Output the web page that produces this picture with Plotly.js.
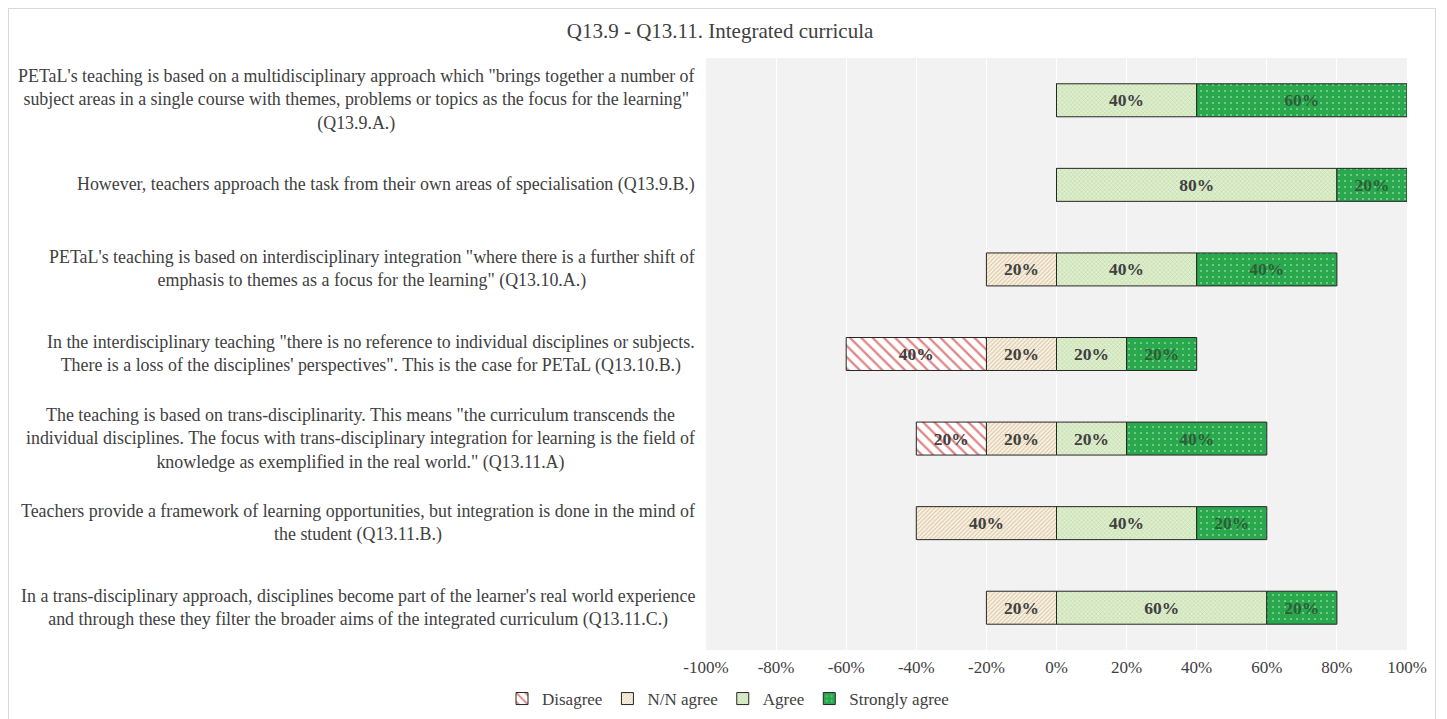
<!DOCTYPE html>
<html>
<head>
<meta charset="utf-8">
<script src="https://cdn.plot.ly/plotly-3.0.1.min.js"></script>
<style>
html,body{margin:0;padding:0;background:#fff;}
#wrap{position:relative;width:1447px;height:719px;}
#chart{width:1447px;height:719px;}
#frame{position:absolute;left:8px;top:8px;width:1428px;height:716px;border:1px solid #d9d9d9;pointer-events:none;box-sizing:border-box;}
</style>
</head>
<body>
<div id="wrap"><div id="chart"></div><div id="frame"></div></div>
<script>
var categories = ["Q13.9.A.", "Q13.9.B.", "Q13.10.A.", "Q13.10.B.", "Q13.11.A", "Q13.11.B.", "Q13.11.C."];
var labels = [
  "PETaL's teaching is based on a multidisciplinary approach which \"brings together a number of<br>subject areas in a single course with themes, problems or topics as the focus for the learning\"<br>(Q13.9.A.)",
  "However, teachers approach the task from their own areas of specialisation (Q13.9.B.)",
  "PETaL's teaching is based on interdisciplinary integration \"where there is a further shift of<br>emphasis to themes as a focus for the learning\" (Q13.10.A.)",
  "In the interdisciplinary teaching \"there is no reference to individual disciplines or subjects.<br>There is a loss of the disciplines' perspectives\". This is the case for PETaL (Q13.10.B.)",
  "The teaching is based on trans-disciplinarity. This means \"the curriculum transcends the<br>individual disciplines. The focus with trans-disciplinary integration for learning is the field of<br>knowledge as exemplified in the real world.\" (Q13.11.A)",
  "Teachers provide a framework of learning opportunities, but integration is done in the mind of<br>the student (Q13.11.B.)",
  "In a trans-disciplinary approach, disciplines become part of the learner's real world experience<br>and through these they filter the broader aims of the integrated curriculum (Q13.11.C.)"
];
var disagree = [0, 0, 0, 40, 20, 0, 0];
var nnAgree  = [0, 0, 20, 20, 20, 40, 20];
var agree    = [40, 80, 40, 20, 20, 40, 60];
var strongly = [60, 20, 40, 20, 40, 20, 20];
var tickValues = [-100, -80, -60, -40, -20, 0, 20, 40, 60, 80, 100];
var tickLabels = ["-100%", "-80%", "-60%", "-40%", "-20%", "0%", "20%", "40%", "60%", "80%", "100%"];

var FONT = "Liberation Serif, Times New Roman, serif";
function txt(arr){ return arr.map(function(v){ return v ? (v + "%") : ""; }); }
function neg(arr){ return arr.map(function(v){ return -v; }); }

function bar(name, xs, texts, pattern, rank, tcolor){
  return {
    type: "bar", orientation: "h", name: name,
    y: categories, x: xs, text: texts,
    texttemplate: "%{text}", textposition: "inside", insidetextanchor: "middle",
    textangle: 0, constraintext: "none",
    insidetextfont: {family: FONT, size: 17.5, color: tcolor, weight: "bold"},
    marker: {color: pattern.bgcolor, line: {color: "#262626", width: 1}, pattern: pattern},
    legendrank: rank, hoverinfo: "x+name"
  };
}

var traces = [
  bar("N/N agree", neg(nnAgree), txt(nnAgree),
      {shape: "/", fgcolor: "#d6c29f", bgcolor: "#f9f1e2", size: 3, solidity: 0.3}, 2, "#404040"),
  bar("Disagree", neg(disagree), txt(disagree),
      {shape: "\\", fgcolor: "#e08585", bgcolor: "#ffffff", size: 8, solidity: 0.28}, 1, "#404040"),
  bar("Agree", agree, txt(agree),
      {shape: "x", fgcolor: "#b5d69c", bgcolor: "#e0eed0", size: 3, solidity: 0.3}, 3, "#404040"),
  bar("Strongly agree", strongly, txt(strongly),
      {shape: ".", fgcolor: "#7fd393", bgcolor: "#2aa84e", size: 6, solidity: 0.1}, 4, "#2d5e38")
];

var annotations = categories.map(function(c, i){
  return {xref: "paper", yref: "y", x: -0.0128, y: c, xanchor: "right", yanchor: "middle",
          align: "center", showarrow: false, text: labels[i],
          font: {family: FONT, size: 17.9, color: "#404040"}};
});

var layout = {
  width: 1447, height: 719,
  margin: {l: 706, r: 40, t: 58, b: 69, pad: 0},
  paper_bgcolor: "#ffffff", plot_bgcolor: "#f2f2f2",
  barmode: "relative", bargap: 0.61,
  font: {family: FONT, color: "#404040", size: 17},
  title: {text: "Q13.9 - Q13.11. Integrated curricula", xref: "container", x: 0.4976,
          y: 1 - 31/719, yanchor: "middle", xanchor: "center",
          font: {family: FONT, size: 21, color: "#404040"}},
  xaxis: {range: [-100, 100], tickvals: tickValues, ticktext: tickLabels,
          showgrid: true, gridcolor: "#ffffff", gridwidth: 1, zeroline: false,
          showline: false, ticks: "", ticklabelstandoff: 5,
          tickfont: {family: FONT, size: 17, color: "#404040"}, fixedrange: true},
  yaxis: {autorange: "reversed", showticklabels: false, showgrid: false, zeroline: false,
          ticks: "", showline: false, fixedrange: true},
  showlegend: true,
  legend: {orientation: "h", xref: "paper", x: (728 - 706) / 701, xanchor: "center",
           yref: "container", y: 2/719, yanchor: "bottom",
           font: {family: FONT, size: 17, color: "#404040"}, bgcolor: "rgba(0,0,0,0)",
           itemwidth: 30, traceorder: "normal"},
  annotations: annotations
};

Plotly.newPlot("chart", traces, layout, {displayModeBar: false, staticPlot: true});
</script>
</body>
</html>
